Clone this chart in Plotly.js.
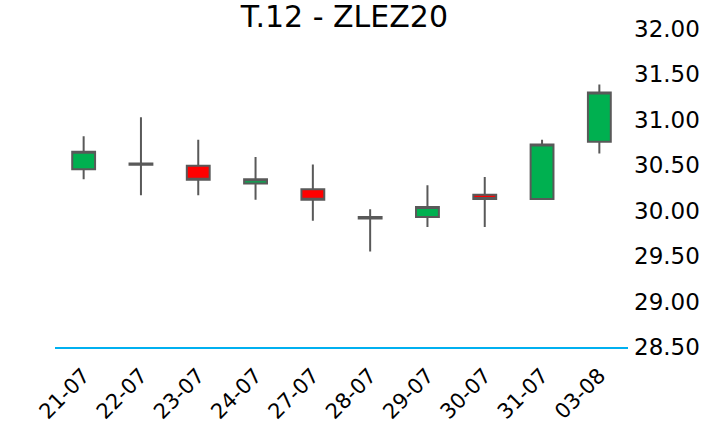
<!DOCTYPE html>
<html>
<head>
<meta charset="utf-8">
<script src="https://cdn.plot.ly/plotly-3.0.1.min.js"></script>
<style>html,body{margin:0;padding:0;background:#fff;}#chart{width:707px;height:427px;}</style>
</head>
<body>
<div id="chart"></div>
<script>
var dates = ['21-07','22-07','23-07','24-07','27-07','28-07','29-07','30-07','31-07','03-08'];
var openVals  = [30.455, 30.505, 30.495, 30.30, 30.235, 29.915, 29.93, 30.175, 30.13, 30.76];
var highVals  = [30.82, 31.03, 30.78, 30.59, 30.51, 30.015, 30.28, 30.37, 30.78, 31.39];
var lowVals   = [30.345, 30.17, 30.17, 30.12, 29.89, 29.55, 29.82, 29.82, 30.12, 30.63];
var closeVals = [30.65, 30.52, 30.34, 30.345, 30.12, 29.93, 30.04, 30.13, 30.73, 31.30];
var yTicks = [28.5, 29.0, 29.5, 30.0, 30.5, 31.0, 31.5, 32.0];

var trace = {
  type: 'candlestick',
  x: dates, open: openVals, high: highVals, low: lowVals, close: closeVals,
  increasing: {fillcolor: '#00B050', line: {color: '#595959', width: 2}},
  decreasing: {fillcolor: '#FF0000', line: {color: '#595959', width: 2}},
  whiskerwidth: 0,
  hoverinfo: 'none'
};

var layout = {
  width: 707, height: 427,
  margin: {l: 55, r: 79, t: 29, b: 80},
  paper_bgcolor: '#ffffff', plot_bgcolor: '#ffffff',
  showlegend: false,
  boxgap: 0.43,
  title: {text: 'T.12 - ZLEZ20', x: 0.505, xref: 'paper', y: 0.985, yanchor: 'top',
          font: {family: 'DejaVu Sans, sans-serif', size: 30, color: '#000'}},
  font: {family: 'DejaVu Sans, sans-serif', color: '#000'},
  xaxis: {
    type: 'category', range: [-0.5, 9.5], rangeslider: {visible: false},
    showgrid: false, zeroline: false, showline: true, linecolor: '#00B0F0', linewidth: 2,
    ticks: '', tickangle: -45, ticklabelstandoff: 6,
    tickfont: {size: 21, color: '#000'}, automargin: false
  },
  yaxis: {
    side: 'right', range: [28.5, 32.0], tickvals: yTicks, tickformat: '.2f',
    showgrid: false, zeroline: false, showline: false, ticks: '', ticklabelstandoff: 5,
    tickfont: {size: 23, color: '#000'}, automargin: false
  }
};

Plotly.newPlot('chart', [trace], layout, {displayModeBar: false, staticPlot: true});
</script>
</body>
</html>
